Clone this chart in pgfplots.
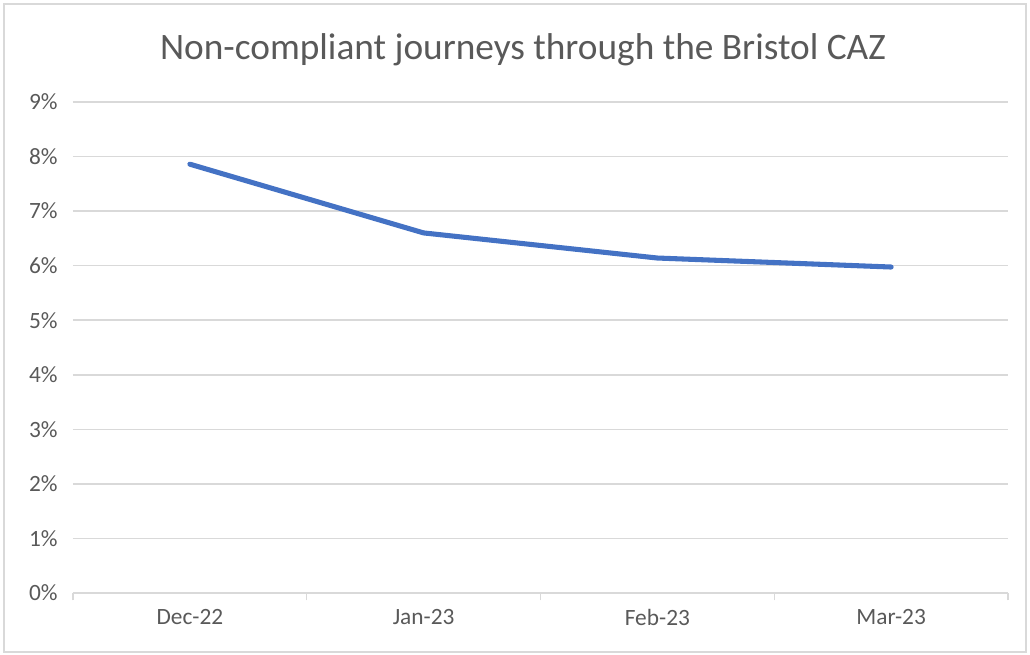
\documentclass[border=0pt]{standalone}
\usepackage{fontspec}
\setmainfont{Carlito}
\usepackage{pgfplots}
\pgfplotsset{compat=1.18}
\definecolor{txt}{HTML}{595959}
\definecolor{grd}{HTML}{D9D9D9}
\definecolor{ln}{HTML}{4472C4}
\begin{document}
\begin{tikzpicture}
\useasboundingbox (-54.75pt,-46.5pt) rectangle (717.75pt,444.75pt);
\draw[grd, line width=1.2pt] (-51.75pt,-44.25pt) rectangle (714.75pt,441.75pt);
\begin{axis}[
  at={(0pt,0pt)}, anchor=south west,
  scale only axis, width=701.25pt, height=368.25pt,
  xmin=-0.5, xmax=3.5, ymin=0, ymax=9,
  axis line style={draw=none},
  axis x line*=bottom,
  x axis line style={draw=grd, line width=1.1pt},
  axis y line*=left,
  y axis line style={draw=none},
  ytick={0,1,...,9},
  yticklabels={0\%,1\%,2\%,3\%,4\%,5\%,6\%,7\%,8\%,9\%},
  xtick={0,1,2,3},
  xticklabels={Dec-22,Jan-23,Feb-23,Mar-23},
  extra x ticks={-0.5,0.5,1.5,2.5,3.5},
  extra x tick labels={},
  extra x tick style={major tick length=5.5pt, tick style={draw=grd, line width=1.1pt}, tick align=outside, xmajorgrids=false},
  major tick length=0pt,
  ymajorgrids=true,
  grid style={draw=grd, line width=1.1pt},
  tick label style={font=\fontsize{17.5pt}{20pt}\selectfont, text=txt},
  yticklabel style={anchor=east, xshift=-8pt},
  xticklabel style={anchor=north, yshift=-9pt},
  clip=false,
]
\addplot[ln, line width=3.8pt, line cap=round, line join=round] coordinates {
(0,7.86) (1,6.60) (2,6.14) (3,5.975)
};
\end{axis}
\node[text=txt, font=\fontsize{28pt}{33pt}\selectfont, anchor=center] at (337.5pt,407.5pt) {Non-compliant journeys through the Bristol CAZ};
\end{tikzpicture}
\end{document}
